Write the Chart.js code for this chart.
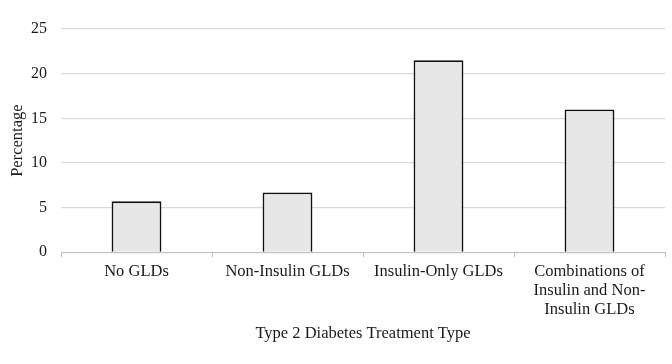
<!DOCTYPE html>
<html>
<head>
<meta charset="utf-8">
<script src="https://cdn.jsdelivr.net/npm/chart.js@4"></script>
<style>
    html, body { margin: 0; padding: 0; background: #fff; }
    #wrap { width: 672px; height: 364px; }
</style>
</head>
<body>
<div id="wrap"><canvas id="treatmentChart" width="672" height="364"></canvas></div>
<script>
const categories = [
    'No GLDs',
    'Non-Insulin GLDs',
    'Insulin-Only GLDs',
    ['Combinations of', 'Insulin and Non-', 'Insulin GLDs']
];
const percentages = [5.7, 6.7, 21.5, 16.0];
const yTicks = [0, 5, 10, 15, 20, 25];

const serif = "'Liberation Serif', 'Times New Roman', serif";
const textColor = '#1a1a1a';

const ctx = document.getElementById('treatmentChart').getContext('2d');
new Chart(ctx, {
    type: 'bar',
    data: {
        labels: categories,
        datasets: [{
            data: percentages,
            backgroundColor: '#e7e7e7',
            borderColor: '#111',
            borderWidth: 1.8,
            barPercentage: 0.33,
            categoryPercentage: 1
        }]
    },
    options: {
        responsive: false,
        animation: false,
        layout: { padding: { top: 29, right: 7, bottom: 20, left: 8 } },
        plugins: {
            legend: { display: false },
            tooltip: { enabled: false }
        },
        scales: {
            x: {
                grid: {
                    display: true,
                    drawOnChartArea: false,
                    drawTicks: true,
                    tickLength: 5,
                    color: '#bfbfbf',
                    offset: true
                },
                border: { display: true, color: '#bfbfbf', width: 1 },
                ticks: {
                    color: textColor,
                    font: { family: serif, size: 16.5, lineHeight: 1.15 },
                    padding: 5,
                    maxRotation: 0,
                    autoSkip: false
                },
                title: {
                    display: true,
                    text: 'Type 2 Diabetes Treatment Type',
                    color: textColor,
                    font: { family: serif, size: 16.5 },
                    padding: { top: 0, bottom: 0 }
                }
            },
            y: {
                min: 0,
                max: 25,
                afterBuildTicks: (axis) => {
                    axis.ticks = yTicks.map(v => ({ value: v }));
                },
                afterFit: (axis) => {
                    axis.width = 53;
                },
                grid: {
                    color: '#d9d9d9',
                    lineWidth: 1.3,
                    drawTicks: false
                },
                border: { display: false },
                ticks: {
                    color: textColor,
                    font: { family: serif, size: 16 },
                    padding: 14
                },
                title: {
                    display: true,
                    text: 'Percentage',
                    color: textColor,
                    font: { family: serif, size: 16.5 },
                    padding: { top: 0, bottom: 5 }
                }
            }
        }
    }
});
</script>
</body>
</html>
